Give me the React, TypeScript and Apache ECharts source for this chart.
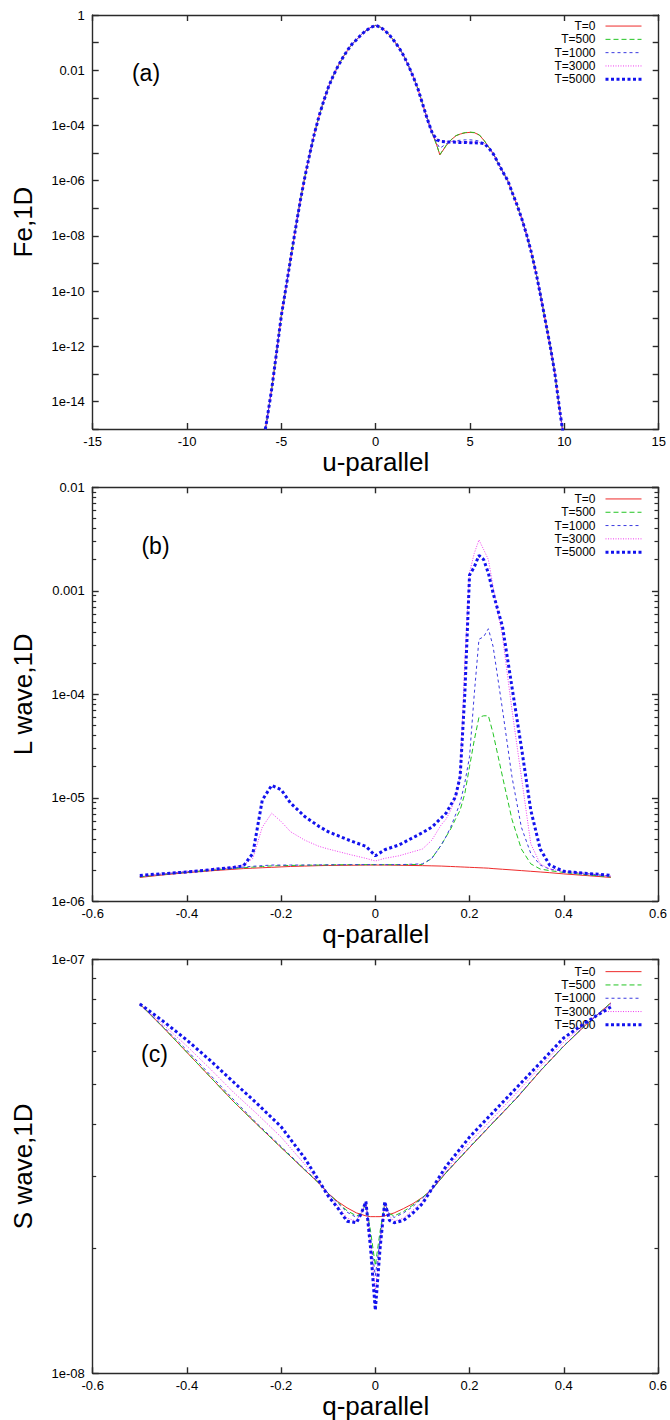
import React, { useEffect, useRef } from "react";
import * as echarts from "echarts";

// ---------- data ----------
const seriesNames = ["T=0", "T=500", "T=1000", "T=3000", "T=5000"];

// Panel (a): Fe,1D vs u-parallel
const uRange = [-15, 15, 5];
const feRange = [1e-15, 1];
const uCore = [-6, -5.75, -5.5, -5.25, -5, -4.75, -4.5, -4.25, -4, -3.75, -3.5, -3.25, -3, -2.75, -2.5, -2.25, -2, -1.75, -1.5, -1.25, -1, -0.75, -0.5, -0.25, 0, 0.25, 0.5, 0.75, 1, 1.25, 1.5, 1.75, 2, 2.25, 2.5, 2.75, 3];
const feCore = [2.5e-16, 2.5e-15, 3.2e-14, 6.3e-13, 1.3e-11, 1.4e-10, 1.6e-9, 1.8e-8, 1.8e-7, 1.4e-6, 8.9e-6, 5.0e-5, 2.2e-4, 7.9e-4, 2.5e-3, 6.3e-3, 1.4e-2, 2.8e-2, 5.2e-2, 8.9e-2, 1.3e-1, 2.0e-1, 2.75e-1, 3.6e-1, 4.2e-1, 3.6e-1, 2.7e-1, 1.8e-1, 1.1e-1, 6.3e-2, 3.2e-2, 1.4e-2, 5.6e-3, 2.0e-3, 5.6e-4, 1.6e-4, 5.2e-5];
const uBump = [3.25, 3.4, 3.5, 3.75, 4, 4.25, 4.5, 4.75, 5, 5.25, 5.5, 5.75, 6];
const feBumpT0 = [1.8e-5, 8.5e-6, 1.07e-5, 1.9e-5, 3.0e-5, 4.2e-5, 4.9e-5, 5.4e-5, 5.6e-5, 5.4e-5, 4.4e-5, 2.8e-5, 1.6e-5];
const feBumpT500 = [1.8e-5, 8.7e-6, 1.1e-5, 1.95e-5, 3.05e-5, 4.25e-5, 5.0e-5, 5.5e-5, 5.7e-5, 5.5e-5, 4.5e-5, 2.85e-5, 1.6e-5];
const feBumpT1000 = [2.2e-5, 1.5e-5, 1.65e-5, 2.2e-5, 2.6e-5, 2.8e-5, 2.9e-5, 3.0e-5, 3.0e-5, 2.9e-5, 2.7e-5, 2.3e-5, 1.6e-5];
const feBumpT3000 = [3.1e-5, 2.8e-5, 2.7e-5, 2.6e-5, 2.6e-5, 2.55e-5, 2.5e-5, 2.5e-5, 2.45e-5, 2.45e-5, 2.4e-5, 2.25e-5, 1.55e-5];
const feBumpT5000 = [3.0e-5, 2.7e-5, 2.6e-5, 2.5e-5, 2.5e-5, 2.45e-5, 2.4e-5, 2.4e-5, 2.35e-5, 2.35e-5, 2.3e-5, 2.2e-5, 1.5e-5];
const uTail = [6.25, 6.5, 6.75, 7, 7.25, 7.5, 7.75, 8, 8.25, 8.5, 8.75, 9, 9.25, 9.5, 9.75, 10];
const feTail = [8.9e-6, 4.2e-6, 2.0e-6, 1.0e-6, 3.5e-7, 1.26e-7, 4.0e-8, 1.1e-8, 2.5e-9, 4.5e-10, 6.3e-11, 7.9e-12, 1.0e-12, 1.0e-13, 5.0e-15, 3.2e-16];

// Panel (b): L wave,1D vs q-parallel
const qRange = [-0.6, 0.6, 0.2];
const lRange = [1e-6, 1e-2];
const qL = [-0.5, -0.45, -0.4, -0.35, -0.3, -0.28, -0.26, -0.24, -0.22, -0.2, -0.18, -0.15, -0.12, -0.1, -0.05, -0.02, 0, 0.02, 0.05, 0.1, 0.12, 0.14, 0.15, 0.16, 0.17, 0.18, 0.19, 0.2, 0.21, 0.22, 0.23, 0.24, 0.25, 0.27, 0.29, 0.31, 0.33, 0.35, 0.37, 0.4, 0.45, 0.5];
const lT0 = [1.7e-6, 1.8e-6, 1.89e-6, 1.97e-6, 2.04e-6, 2.07e-6, 2.09e-6, 2.11e-6, 2.13e-6, 2.15e-6, 2.17e-6, 2.19e-6, 2.21e-6, 2.22e-6, 2.23e-6, 2.24e-6, 2.24e-6, 2.24e-6, 2.23e-6, 2.21e-6, 2.2e-6, 2.19e-6, 2.18e-6, 2.17e-6, 2.16e-6, 2.15e-6, 2.14e-6, 2.13e-6, 2.12e-6, 2.11e-6, 2.1e-6, 2.09e-6, 2.07e-6, 2.04e-6, 2.01e-6, 1.98e-6, 1.95e-6, 1.92e-6, 1.89e-6, 1.84e-6, 1.77e-6, 1.7e-6];
const lT500 = [1.72e-6, 1.82e-6, 1.91e-6, 2.0e-6, 2.08e-6, 2.11e-6, 2.14e-6, 2.17e-6, 2.2e-6, 2.21e-6, 2.22e-6, 2.23e-6, 2.24e-6, 2.25e-6, 2.26e-6, 2.26e-6, 2.26e-6, 2.26e-6, 2.26e-6, 2.27e-6, 2.6e-6, 3.5e-6, 4.2e-6, 5.0e-6, 6.2e-6, 7.6e-6, 1.1e-5, 2.0e-5, 3.6e-5, 6.0e-5, 6.2e-5, 6.2e-5, 4.2e-5, 1.6e-5, 6.2e-6, 3.2e-6, 2.3e-6, 2.05e-6, 1.98e-6, 1.9e-6, 1.8e-6, 1.72e-6];
const lT1000 = [1.74e-6, 1.84e-6, 1.93e-6, 2.02e-6, 2.1e-6, 2.14e-6, 2.18e-6, 2.21e-6, 2.24e-6, 2.24e-6, 2.24e-6, 2.24e-6, 2.25e-6, 2.25e-6, 2.26e-6, 2.26e-6, 2.26e-6, 2.26e-6, 2.26e-6, 2.3e-6, 2.6e-6, 3.5e-6, 4.2e-6, 5.2e-6, 6.8e-6, 8.9e-6, 1.4e-5, 2.5e-5, 1.0e-4, 3.4e-4, 3.6e-4, 4.3e-4, 2.9e-4, 7.1e-5, 1.6e-5, 5.2e-6, 2.9e-6, 2.24e-6, 2.05e-6, 1.95e-6, 1.85e-6, 1.75e-6];
const lT3000 = [1.75e-6, 1.85e-6, 1.95e-6, 2.04e-6, 2.15e-6, 2.25e-6, 2.6e-6, 5.2e-6, 7.1e-6, 5.9e-6, 4.7e-6, 3.9e-6, 3.4e-6, 3.2e-6, 2.8e-6, 2.6e-6, 2.45e-6, 2.6e-6, 2.75e-6, 3.2e-6, 3.9e-6, 5.5e-6, 6.2e-6, 7.6e-6, 1.0e-5, 1.6e-5, 2.1e-4, 1.5e-3, 2.3e-3, 3.1e-3, 2.5e-3, 2.0e-3, 1.1e-3, 3.6e-4, 7.1e-5, 1.6e-5, 3.6e-6, 2.3e-6, 2.05e-6, 1.95e-6, 1.85e-6, 1.75e-6];
const lT5000 = [1.78e-6, 1.85e-6, 1.92e-6, 2.02e-6, 2.13e-6, 2.2e-6, 2.9e-6, 9.5e-6, 1.32e-5, 1.2e-5, 8.9e-6, 6.6e-6, 5.3e-6, 4.7e-6, 3.8e-6, 3.4e-6, 2.75e-6, 3.15e-6, 3.5e-6, 4.6e-6, 5.2e-6, 6.4e-6, 7.1e-6, 8.5e-6, 1.02e-5, 1.6e-5, 1.02e-4, 1.42e-3, 1.7e-3, 2.2e-3, 2.0e-3, 1.48e-3, 9.5e-4, 4.5e-4, 1.18e-4, 3.1e-5, 7.6e-6, 3.2e-6, 2.24e-6, 1.95e-6, 1.86e-6, 1.78e-6];

// Panel (c): S wave,1D vs q-parallel
const sRange = [1e-8, 1e-7];
const qS = [-0.5, -0.45, -0.4, -0.35, -0.3, -0.25, -0.2, -0.15, -0.12, -0.1, -0.08, -0.06, -0.04, -0.03, -0.02, -0.01, 0, 0.01, 0.02, 0.03, 0.04, 0.06, 0.08, 0.1, 0.12, 0.15, 0.2, 0.25, 0.3, 0.35, 0.4, 0.45, 0.5];
const sT0 = [7.8e-8, 6.84e-8, 5.96e-8, 5.19e-8, 4.52e-8, 3.98e-8, 3.51e-8, 3.1e-8, 2.88e-8, 2.72e-8, 2.6e-8, 2.51e-8, 2.44e-8, 2.42e-8, 2.4e-8, 2.39e-8, 2.39e-8, 2.39e-8, 2.4e-8, 2.42e-8, 2.44e-8, 2.5e-8, 2.57e-8, 2.66e-8, 2.78e-8, 3.05e-8, 3.51e-8, 4.03e-8, 4.62e-8, 5.37e-8, 6.17e-8, 7.0e-8, 7.85e-8];
const sT500 = [7.8e-8, 6.84e-8, 5.96e-8, 5.19e-8, 4.52e-8, 3.98e-8, 3.51e-8, 3.1e-8, 2.88e-8, 2.72e-8, 2.59e-8, 2.47e-8, 2.4e-8, 2.43e-8, 2.57e-8, 2.2e-8, 1.82e-8, 2.2e-8, 2.57e-8, 2.43e-8, 2.4e-8, 2.46e-8, 2.55e-8, 2.66e-8, 2.78e-8, 3.05e-8, 3.51e-8, 4.03e-8, 4.62e-8, 5.37e-8, 6.17e-8, 7.0e-8, 7.85e-8];
const sT1000 = [7.8e-8, 6.87e-8, 6.03e-8, 5.25e-8, 4.57e-8, 4.0e-8, 3.53e-8, 3.11e-8, 2.89e-8, 2.72e-8, 2.58e-8, 2.45e-8, 2.38e-8, 2.42e-8, 2.58e-8, 2.1e-8, 1.72e-8, 2.1e-8, 2.58e-8, 2.42e-8, 2.38e-8, 2.44e-8, 2.53e-8, 2.65e-8, 2.78e-8, 3.06e-8, 3.52e-8, 4.04e-8, 4.63e-8, 5.38e-8, 6.18e-8, 7.0e-8, 7.82e-8];
const sT3000 = [7.8e-8, 6.95e-8, 6.17e-8, 5.43e-8, 4.76e-8, 4.22e-8, 3.72e-8, 3.2e-8, 2.9e-8, 2.7e-8, 2.54e-8, 2.37e-8, 2.33e-8, 2.44e-8, 2.58e-8, 2.04e-8, 1.58e-8, 2.04e-8, 2.58e-8, 2.4e-8, 2.33e-8, 2.37e-8, 2.48e-8, 2.6e-8, 2.78e-8, 3.1e-8, 3.61e-8, 4.14e-8, 4.76e-8, 5.5e-8, 6.31e-8, 7.05e-8, 7.76e-8];
const sT5000 = [7.8e-8, 7.08e-8, 6.38e-8, 5.69e-8, 5.04e-8, 4.47e-8, 3.94e-8, 3.31e-8, 2.92e-8, 2.68e-8, 2.51e-8, 2.33e-8, 2.31e-8, 2.43e-8, 2.6e-8, 2.0e-8, 1.42e-8, 2.0e-8, 2.6e-8, 2.34e-8, 2.31e-8, 2.34e-8, 2.44e-8, 2.57e-8, 2.79e-8, 3.16e-8, 3.72e-8, 4.27e-8, 4.9e-8, 5.62e-8, 6.46e-8, 7.08e-8, 7.67e-8];

const panelLabels = ["(a)", "(b)", "(c)"];
const xTitles = ["u-parallel", "q-parallel", "q-parallel"];
const yTitles = ["Fe,1D", "L wave,1D", "S wave,1D"];

// ---------- styling ----------
const FONT = '"Liberation Sans", Arial, Helvetica, sans-serif';
const AXIS_COLOR = "#2a2a2a";
const lineStyles = [
  { color: "#ee2a2a", width: 1, type: "solid" },
  { color: "#22c422", width: 1, type: [5, 3] },
  { color: "#3a3ae0", width: 1, type: [3, 3] },
  { color: "#f03cf0", width: 1, type: [1, 1.5] },
  { color: "#1212ee", width: 3, type: [3, 2.5] },
];
const GL = 92.7;
const GW = 566;
const GH = 414;
const gridTops = [15, 487.3, 959.3];

const pairs = (xs: number[], ys: number[]) => xs.map((x, i) => [x, ys[i]]);

const logLabel = (v: number) => {
  const e = Math.round(Math.log10(v));
  if (e >= 0) return String(Math.pow(10, e));
  if (e >= -3) return Math.pow(10, e).toFixed(-e);
  return "1e-" + String(-e).padStart(2, "0");
};

// tick positions 2..9 x 10^n inside each decade
const minorTicks = (lo: number, hi: number) => {
  const out: number[] = [];
  for (let n = lo; n < hi; n++) for (let k = 2; k <= 9; k++) out.push(k * Math.pow(10, n));
  return out;
};

const axisLine = () => ({ show: true, onZero: false, lineStyle: { color: AXIS_COLOR, width: 1.4 } });
const majorTick = () => ({ show: true, inside: true, length: 6, lineStyle: { color: AXIS_COLOR, width: 1.4 } });

function buildOption() {
  const grids = gridTops.map((t) => ({ left: GL, top: t, width: GW, height: GH, show: false }));
  const labelStyle = { color: "#000", fontSize: 13, fontFamily: FONT };

  const xAxes: any[] = [];
  const ranges = [uRange, qRange, qRange];
  ranges.forEach((r, gi) => {
    xAxes.push({
      type: "value", gridIndex: gi, position: "bottom", min: r[0], max: r[1], interval: r[2],
      axisLine: axisLine(), splitLine: { show: false }, axisTick: majorTick(),
      axisLabel: { ...labelStyle, margin: 6 },
    });
    xAxes.push({
      type: "value", gridIndex: gi, position: "top", min: r[0], max: r[1], interval: r[2],
      axisLine: axisLine(), splitLine: { show: false }, axisTick: majorTick(),
      axisLabel: { show: false },
    });
  });

  const yRanges = [feRange, lRange, sRange];
  const yAxes: any[] = [];
  const mainY: number[] = [];
  yRanges.forEach((r, gi) => {
    mainY.push(yAxes.length);
    yAxes.push({
      type: "log", logBase: 10, gridIndex: gi, position: "left", min: r[0], max: r[1], interval: 1,
      axisLine: axisLine(), splitLine: { show: false }, axisTick: majorTick(),
      axisLabel: {
        ...labelStyle, margin: 8,
        formatter: gi === 0
          ? (v: number) => (Math.round(Math.log10(v)) % 2 === 0 ? logLabel(v) : "")
          : (v: number) => logLabel(v),
      },
    });
    yAxes.push({
      type: "log", logBase: 10, gridIndex: gi, position: "right", min: r[0], max: r[1], interval: 1,
      axisLine: axisLine(), splitLine: { show: false }, axisTick: majorTick(),
      axisLabel: { show: false },
    });
    if (gi > 0) {
      const lo = Math.round(Math.log10(r[0]));
      const hi = Math.round(Math.log10(r[1]));
      const mt = minorTicks(lo, hi);
      ["left", "right"].forEach((pos) => {
        yAxes.push({
          type: "log", logBase: 10, gridIndex: gi, position: pos, min: r[0], max: r[1],
          axisLine: { show: false, onZero: false }, splitLine: { show: false },
          axisTick: { show: true, inside: true, length: 3.5, customValues: mt, lineStyle: { color: AXIS_COLOR, width: 1.2 } },
          axisLabel: { show: false },
        });
      });
    }
  });

  const dataA = [feBumpT0, feBumpT500, feBumpT1000, feBumpT3000, feBumpT5000].map((b) =>
    pairs(uCore, feCore).concat(pairs(uBump, b)).concat(pairs(uTail, feTail))
  );
  const dataB = [lT0, lT500, lT1000, lT3000, lT5000].map((ys) => pairs(qL, ys));
  const dataC = [sT0, sT500, sT1000, sT3000, sT5000].map((ys) => pairs(qS, ys));

  const series: any[] = [];
  [dataA, dataB, dataC].forEach((set, gi) => {
    set.forEach((d, si) => {
      series.push({
        type: "line", name: seriesNames[si], xAxisIndex: gi * 2, yAxisIndex: mainY[gi],
        data: d, symbol: "none", showSymbol: false, smooth: false, clip: true,
        lineStyle: lineStyles[si], itemStyle: { color: lineStyles[si].color },
        z: 2 + si, emphasis: { disabled: true },
      });
    });
  });

  const legendTops = [19.4, 492.3, 965];
  const legends = legendTops.map((t) => ({
    orient: "vertical", right: 27, top: t, padding: 0, align: "right",
    itemWidth: 36, itemHeight: 13.3, itemGap: 0, selectedMode: false,
    itemStyle: { opacity: 0, borderWidth: 0 },
    lineStyle: { width: "inherit" },
    textStyle: { fontSize: 12, lineHeight: 13.3, color: "#000", fontFamily: FONT, padding: [0, 5, 0, 0] },
    data: seriesNames,
  }));

  const panelLabelPos = [[146, 73], [155.5, 546], [154.5, 1054]];
  const graphics: any[] = [];
  gridTops.forEach((t, gi) => {
    graphics.push({
      type: "text", x: 23, y: t + GH / 2, rotation: Math.PI / 2,
      style: { text: yTitles[gi], fontSize: 26, fontFamily: FONT, fill: "#000", align: "center", verticalAlign: "middle" },
    });
    graphics.push({
      type: "text", x: GL + GW / 2, y: t + GH + 33,
      style: { text: xTitles[gi], fontSize: 26, fontFamily: FONT, fill: "#000", align: "center", verticalAlign: "middle" },
    });
    graphics.push({
      type: "text", x: panelLabelPos[gi][0], y: panelLabelPos[gi][1],
      style: { text: panelLabels[gi], fontSize: 23, fontFamily: FONT, fill: "#000", align: "center", verticalAlign: "middle" },
    });
  });

  return {
    animation: false,
    backgroundColor: "#fff",
    textStyle: { fontFamily: FONT },
    grid: grids,
    xAxis: xAxes,
    yAxis: yAxes,
    legend: legends,
    series,
    graphic: graphics,
  };
}

export default function App() {
  const ref = useRef<HTMLDivElement>(null);
  useEffect(() => {
    if (!ref.current) return;
    const chart = echarts.init(ref.current, undefined, { renderer: "svg" });
    chart.setOption(buildOption() as any);
    return () => chart.dispose();
  }, []);
  return (
    <div
      ref={ref}
      style={{ position: "absolute", left: 0, top: 0, width: 670, height: 1420, background: "#fff" }}
    />
  );
}
